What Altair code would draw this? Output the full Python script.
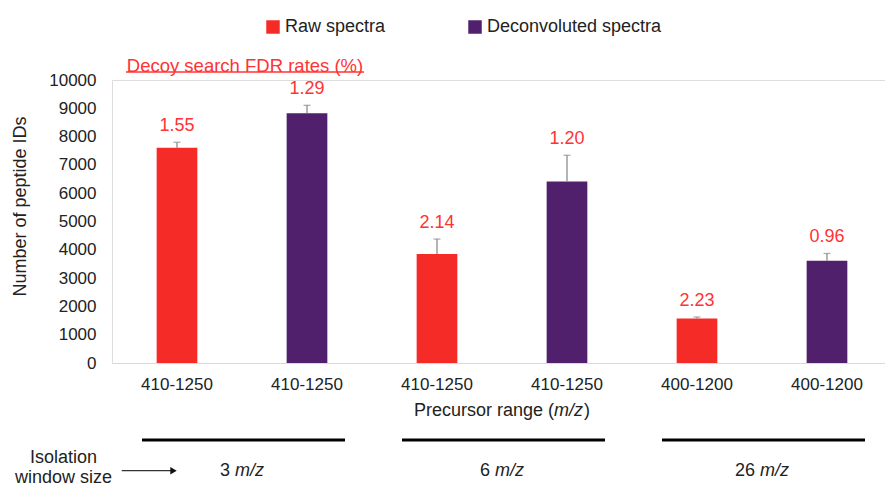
import json
import altair as alt
import pandas as pd

# ---- data ---------------------------------------------------------------
precursor_ranges = ["410-1250", "410-1250", "410-1250", "410-1250", "400-1200", "400-1200"]
spectra_type = ["Raw spectra", "Deconvoluted spectra"] * 3
peptide_ids = [7610, 8825, 3850, 6410, 1575, 3610]
peptide_sd = [190, 280, 530, 930, 50, 260]
fdr_rates = ["1.55", "1.29", "2.14", "1.20", "2.23", "0.96"]
window_sizes = ["3", "6", "26"]

series_order = ["Raw spectra", "Deconvoluted spectra"]
series_colors = ["#F52B28", "#51206D"]
label_red = "#FF3333"
ink = "#222222"
FONT = "Liberation Sans"

bars = pd.DataFrame({
    "idx": list(range(len(peptide_ids))),
    "range": precursor_ranges,
    "spectra": spectra_type,
    "ids": peptide_ids,
    "sd": peptide_sd,
    "fdr": fdr_rates,
})
bars["top"] = bars["ids"] + bars["sd"]

groups = pd.DataFrame({
    "first": [0, 2, 4],
    "second": [1, 3, 5],
    "window": window_sizes,
})

# ---- geometry -----------------------------------------------------------
W, H = 773, 283
PAD = {"left": 112, "top": 80, "right": 0, "bottom": 123}
STEP = 130  # band step that results from the x scale settings below

xscale = alt.Scale(paddingInner=0.687, paddingOuter=0.3166, align=0.5425)
yscale = alt.Scale(domain=[0, 10000], nice=False)

xaxis = alt.Axis(
    title=None,
    labelExpr=json.dumps(precursor_ranges) + "[datum.value]",
    labelAngle=0, labelFontSize=17, labelColor=ink, labelPadding=13,
    ticks=False, tickSize=0, grid=False,
    domainColor="#D9D9D9", domainWidth=1,
)
yaxis = alt.Axis(
    title="Number of peptide IDs",
    values=list(range(0, 10001, 1000)), format="d",
    labelFontSize=17, labelColor=ink, labelPadding=16,
    ticks=False, tickSize=0, domain=False, grid=False,
    titleFontSize=18, titleFontWeight="normal", titleColor=ink,
    titleAngle=270, titleAlign="center", titleBaseline="middle",
    titleX=-92, titleY=126,
)


def X(field="idx"):
    return alt.X(f"{field}:O", scale=xscale, axis=xaxis)


def Y(field):
    return alt.Y(f"{field}:Q", scale=yscale, axis=yaxis)


# average Arial advance widths (em) for the characters used in the italic labels
ADV = {**{d: 0.556 for d in "0123456789"}, " ": 0.278,
       "m": 0.833, "/": 0.278, "z": 0.5}


def text_width(s, size=18):
    return sum(ADV.get(c, 0.55) for c in s) * size


# ---- main marks -----------------------------------------------------------
bar_layer = alt.Chart(bars).mark_bar().encode(
    x=X(),
    y=Y("ids"),
    color=alt.Color(
        "spectra:N",
        scale=alt.Scale(domain=series_order, range=series_colors),
        legend=alt.Legend(
            title=None, orient="none", legendX=152, legendY=-62,
            direction="horizontal", columns=2,
            symbolType="square", symbolSize=182, symbolStrokeWidth=0,
            labelFontSize=18, labelColor=ink, labelOffset=3, labelLimit=400,
            columnPadding=80,
        ),
    ),
)

err_rule = alt.Chart(bars).mark_rule(color="#8C8C8C", strokeWidth=1.3).encode(
    x=X(), y=Y("ids"), y2="top:Q"
)
err_cap = alt.Chart(bars).mark_tick(color="#8C8C8C", size=7, thickness=1.3).encode(
    x=X(), y=Y("top")
)
fdr_text = alt.Chart(bars).mark_text(
    baseline="bottom", dy=-7, fontSize=18, color=label_red
).encode(x=X(), y=Y("top"), text="fdr:N")

# ---- annotations ----------------------------------------------------------
one = pd.DataFrame({"k": [0]})

fdr_title = alt.Chart(one).mark_text(
    fontSize=18.5, color=label_red, align="center", baseline="middle"
).encode(x=alt.value(133), y=alt.value(-14), text=alt.value("Decoy search FDR rates (%)"))
fdr_underline = alt.Chart(one).mark_rule(color=label_red, strokeWidth=1.3).encode(
    x=alt.value(14), x2=alt.value(252), y=alt.value(-8)
)

# x-axis title with an italic m/z
title_parts = ["Precursor range (", "m/z", ")"]
tw = [140.0, text_width("m/z"), 6.0]
x_left = W / 2 + 3 - sum(tw) / 2
title_y = 331
x_title = [
    alt.Chart(one).mark_text(fontSize=18, color=ink, align="left", baseline="middle").encode(
        x=alt.value(x_left), y=alt.value(title_y), text=alt.value(title_parts[0])),
    alt.Chart(one).mark_text(fontSize=18, color=ink, align="left", baseline="middle",
                             fontStyle="italic").encode(
        x=alt.value(x_left + tw[0]), y=alt.value(title_y), text=alt.value(title_parts[1])),
    alt.Chart(one).mark_text(fontSize=18, color=ink, align="left", baseline="middle").encode(
        x=alt.value(x_left + tw[0] + tw[1] + 1), y=alt.value(title_y), text=alt.value(title_parts[2])),
]

# isolation-window group brackets and labels ("N m/z", with the unit in italics)
group_lines = alt.Chart(groups).mark_rule(
    color="black", strokeWidth=3, xOffset=-35, x2Offset=38
).encode(x=X("first"), x2="second:O", y=alt.value(360))

space_w = text_width(" ")
group_labels = []
for w in window_sizes:
    split = (text_width(w) + space_w - text_width("m/z")) / 2
    sub = groups[groups["window"] == w]
    group_labels.append(
        alt.Chart(sub).mark_text(fontSize=18, color=ink, align="right", baseline="middle",
                                 xOffset=STEP / 2 + split - space_w).encode(
            x=X("first"), y=alt.value(391), text=alt.value(w))
    )
    group_labels.append(
        alt.Chart(sub).mark_text(fontSize=18, color=ink, align="left", baseline="middle",
                                 fontStyle="italic", xOffset=STEP / 2 + split).encode(
            x=X("first"), y=alt.value(391), text=alt.value("m/z"))
    )

iso_text = [
    alt.Chart(one).mark_text(fontSize=18, color=ink, align="center", baseline="middle").encode(
        x=alt.value(-48.5), y=alt.value(378), text=alt.value("Isolation")),
    alt.Chart(one).mark_text(fontSize=18, color=ink, align="center", baseline="middle").encode(
        x=alt.value(-48.5), y=alt.value(397.5), text=alt.value("window size")),
]
arrow_line = alt.Chart(one).mark_rule(color="#333333", strokeWidth=1.3).encode(
    x=alt.value(9.7), x2=alt.value(60), y=alt.value(390.7)
)
arrow_head = alt.Chart(one).mark_point(
    shape="triangle-right", filled=True, color="#111111", size=55, opacity=1
).encode(x=alt.value(61.5), y=alt.value(390.7))

chart = alt.layer(
    bar_layer, err_rule, err_cap, fdr_text,
    fdr_title, fdr_underline, *x_title,
    group_lines, *group_labels, *iso_text, arrow_line, arrow_head,
).properties(
    width=W, height=H,
    autosize=alt.AutoSizeParams(type="none"),
    padding=PAD,
    background="white",
).configure_view(stroke=None).configure(font=FONT)

chart.save("out.html", embed_options={"renderer": "svg", "actions": False})
